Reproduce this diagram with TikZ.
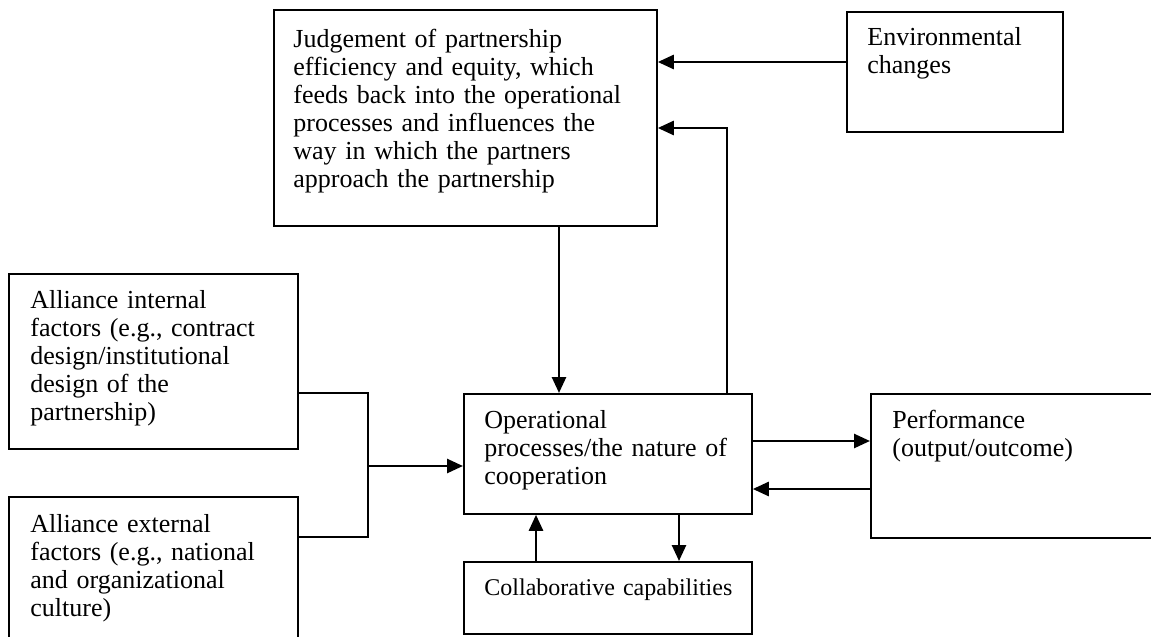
\documentclass[tikz,border=0pt]{standalone}
\usepackage{fontspec}
\setmainfont{Liberation Serif}
\usetikzlibrary{arrows.meta}

\begin{document}
\begin{tikzpicture}[x=0.5pt, y=-0.5pt,
    box/.style={draw, line width=0.9pt, anchor=north west, inner sep=0pt},
    txt/.style={anchor=base west, inner sep=0pt, align=left, text width=190pt,
      font=\fontsize{13}{14}\selectfont},
    arr/.style={line width=1.3pt, -{Triangle[length=8pt,width=7pt]}},
    link/.style={line width=0.9pt}]
    \useasboundingbox (0,0) rectangle (1151,637);
    % boxes
    \node[box, minimum width=191.5pt, minimum height=108pt] (judge) at (273,9) {};
    \node[box, minimum width=108pt, minimum height=60pt] (env) at (846,11) {};
    \node[box, minimum width=144.5pt, minimum height=87.5pt] (intl) at (8,273) {};
    \node[box, minimum width=144.5pt, minimum height=85pt] (extl) at (8,496) {};
    \node[box, minimum width=144pt, minimum height=60pt] (op) at (463,393) {};
    \node[box, minimum width=144pt, minimum height=36pt] (collab) at (463,561) {};
    \node[box, minimum width=150pt, minimum height=72pt] (perf) at (870,393) {};
    % texts
    \node[txt] (judgetext) at ([shift={(20,38)}]judge.north west)
      {Judgement of partnership\\efficiency and equity, which\\feeds back into the operational\\processes and influences the\\way in which the partners\\approach the partnership};
    \node[txt] (envtext) at ([shift={(21,34)}]env.north west) {Environmental\\changes};
    \node[txt] (intltext) at ([shift={(22,35)}]intl.north west)
      {Alliance internal\\factors (e.g., contract\\design/institutional\\design of the\\partnership)};
    \node[txt] (extltext) at ([shift={(22,36)}]extl.north west)
      {Alliance external\\factors (e.g., national\\and organizational\\culture)};
    \node[txt] (optext) at ([shift={(21,35)}]op.north west)
      {Operational\\processes/the nature of\\cooperation};
    \node[txt, font=\fontsize{12}{14}\selectfont] (collabtext) at ([shift={(21,34)}]collab.north west) {Collaborative capabilities};
    \node[txt] (perftext) at ([shift={(22,35)}]perf.north west) {Performance\\(output/outcome)};
    % connectors
    \coordinate (join) at (368,466);
    \draw[arr] (env.west |- 0,62) -- (judge.east |- 0,62);
    \draw[arr] (op.north -| 727,0) |- (judge.east |- 0,128);
    \draw[arr] (judge.south -| 559,0) -- (op.north -| 559,0);
    \draw[link] (intl.east |- 0,393) -| (join) |- (extl.east |- 0,537);
    \draw[arr] (join) -- (op.west |- join);
    \draw[arr] (op.east |- 0,441) -- (perf.west |- 0,441);
    \draw[arr] (perf.west |- 0,489) -- (op.east |- 0,489);
    \draw[arr] (collab.north -| 536,0) -- (op.south -| 536,0);
    \draw[arr] (op.south -| 679,0) -- (collab.north -| 679,0);
\end{tikzpicture}
\end{document}
